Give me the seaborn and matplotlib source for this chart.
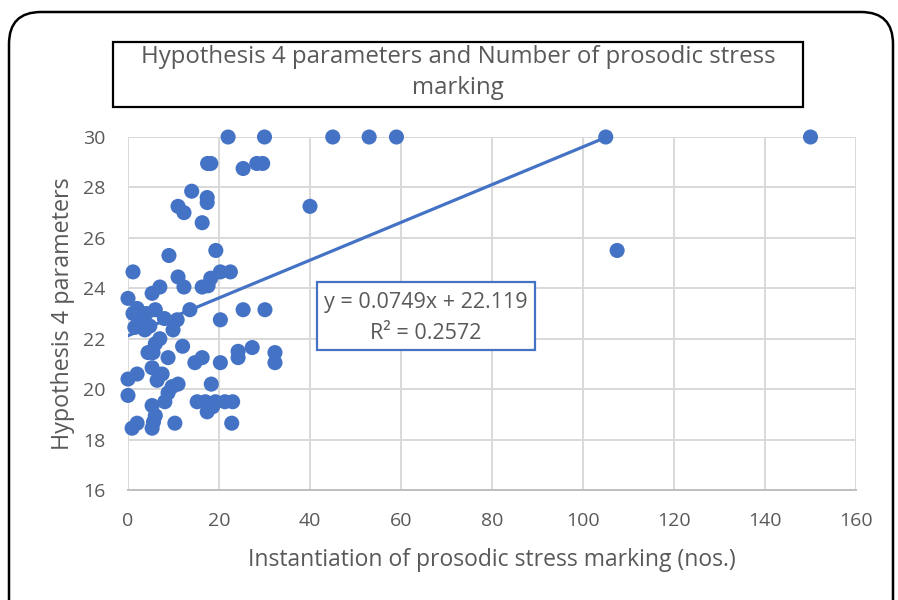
import numpy as np
import pandas as pd
import seaborn as sns
import matplotlib.pyplot as plt
from matplotlib.patches import FancyBboxPatch, Rectangle
from matplotlib.transforms import IdentityTransform

sns.set_theme(style="white")
plt.rcParams['font.family'] = ['Open Sans', 'DejaVu Sans']

# Instantiations of prosodic stress marking (x) vs Hypothesis 4 parameters (y)
stress_marking = [
    22, 30, 45, 53, 59, 105, 150,
    17.5, 18.2, 25.3, 28.3, 29.6,
    14, 17.4, 17.4, 11, 12.3, 16.3, 40,
    19.3, 9, 107.5,
    1.1, 11, 12.3, 7, 5.3, 0,
    16.3, 17.6, 18.2, 20.3, 22.5,
    25.3, 30.1, 20.3, 13.6,
    1.1, 2, 6, 4, 8, 10.8, 9.9, 1.5, 3.7, 2.5, 4.8,
    7, 6, 12, 4.4, 5.5, 8.8, 14.7, 16.3, 20.3,
    24.2, 24.2, 27.3, 32.3, 32.3,
    2, 0, 5.3, 7.5, 6.4, 0, 11, 9.7, 8.8, 18.3,
    8.1, 5.3, 6, 15.2, 17, 19.2, 21.3, 23, 17.4, 18.6,
    2, 0.9, 5.3, 5.6, 10.3, 22.8,
]
h4_parameters = [
    30, 30, 30, 30, 30, 30, 30,
    28.95, 28.95, 28.75, 28.95, 28.95,
    27.85, 27.6, 27.4, 27.25, 27.0, 26.6, 27.25,
    25.5, 25.3, 25.5,
    24.65, 24.45, 24.05, 24.05, 23.8, 23.6,
    24.05, 24.1, 24.4, 24.65, 24.65,
    23.15, 23.15, 22.75, 23.15,
    23.0, 23.2, 23.15, 23.0, 22.8, 22.75, 22.35, 22.45, 22.35, 22.7, 22.5,
    22.0, 21.8, 21.7, 21.45, 21.45, 21.25, 21.05, 21.25, 21.05,
    21.5, 21.25, 21.65, 21.45, 21.05,
    20.6, 20.4, 20.85, 20.6, 20.35, 19.75, 20.2, 20.1, 19.85, 20.2,
    19.5, 19.35, 18.95, 19.5, 19.5, 19.5, 19.5, 19.5, 19.1, 19.3,
    18.65, 18.45, 18.45, 18.7, 18.65, 18.65,
]

# Linear trendline as reported
slope = 0.0749
intercept = 22.119
r_squared = 0.2572

x_ticks = [0, 20, 40, 60, 80, 100, 120, 140, 160]
y_ticks = [16, 18, 20, 22, 24, 26, 28, 30]

df = pd.DataFrame({"x": stress_marking, "y": h4_parameters})

blue = "#4472C4"
grey_text = "#595959"
grid_col = "#D9D9D9"

fig = plt.figure(figsize=(8.98, 6.0), dpi=100)
ax = fig.add_axes([128 / 898, 1 - 490 / 600, (856 - 128) / 898, (490 - 137) / 600])

sns.scatterplot(data=df, x="x", y="y", ax=ax, color=blue, s=118,
                edgecolor="none", linewidth=0, zorder=3, clip_on=False)

trend_x = np.array([min(stress_marking), max(stress_marking)])
ax.plot(trend_x, slope * trend_x + intercept, color=blue, lw=2.3, zorder=2)

ax.set_xlim(0, 160)
ax.set_ylim(16, 30)
ax.set_xticks(x_ticks)
ax.set_yticks(y_ticks)
ax.grid(True, color=grid_col, lw=1.4)
ax.set_axisbelow(True)
for side in ["top", "right", "left"]:
    ax.spines[side].set_visible(False)
ax.spines["bottom"].set_color("#BFBFBF")
ax.spines["bottom"].set_linewidth(1.4)
ax.tick_params(axis="both", colors=grey_text, labelsize=14, length=0)
ax.tick_params(axis="x", pad=16)
ax.tick_params(axis="y", pad=16)
ax.set_xlabel("Instantiation of prosodic stress marking (nos.)", color=grey_text,
              fontsize=16.5, labelpad=13)
ax.set_ylabel("Hypothesis 4 parameters", color=grey_text, fontsize=16.8, labelpad=6)

# Equation box with trendline formula
ax.add_patch(Rectangle((41.5, 21.55), 48.0, 2.7, facecolor="white", edgecolor=blue,
                       lw=1.6, zorder=4))
ax.text(65.5, 23.45, f"y = {slope}x + {intercept}", ha="center", va="center",
        color=grey_text, fontsize=15.5, zorder=5)
ax.text(65.5, 22.22, f"R² = {r_squared}", ha="center", va="center",
        color=grey_text, fontsize=15.5, zorder=5)

# Title box
fig.patches.append(Rectangle((113, 600 - 107), 690, 65, transform=IdentityTransform(),
                             facecolor="white", edgecolor="black", lw=1.6, zorder=5))
fig.text(458 / 898, 1 - 57 / 600, "Hypothesis 4 parameters and Number of prosodic stress",
         ha="center", va="center", fontsize=17.3, color=grey_text, zorder=6)
fig.text(458 / 898, 1 - 88 / 600, "marking",
         ha="center", va="center", fontsize=17.3, color=grey_text, zorder=6)

# Outer rounded frame
fig.patches.append(FancyBboxPatch((9, -60), 884, 648, transform=IdentityTransform(),
                                  boxstyle="round,pad=0,rounding_size=32",
                                  facecolor="none", edgecolor="black", lw=1.8, zorder=5))

fig.savefig("out.png", dpi=100)
